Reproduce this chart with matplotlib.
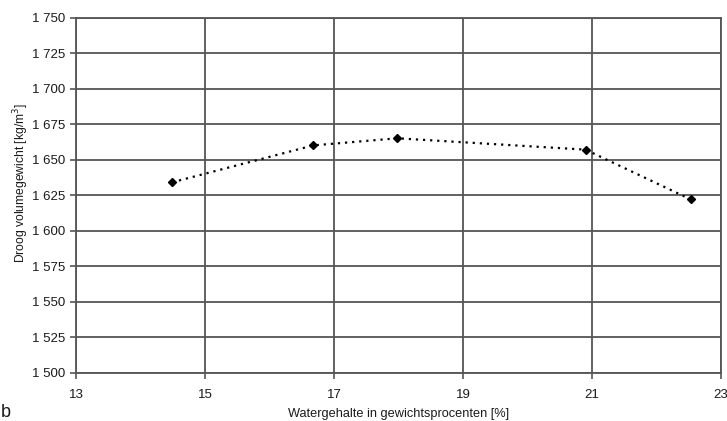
import numpy as np
import matplotlib.pyplot as plt
from matplotlib.ticker import FuncFormatter

plt.rcParams['font.family'] = ['Liberation Sans', 'DejaVu Sans']

# waterpercentage vs droog volumegewicht
water = [14.49, 16.68, 17.98, 20.90, 22.53]
dichtheid = [1634, 1660, 1665, 1657, 1622]

xticks = [13, 15, 17, 19, 21, 23]
yticks = list(range(1500, 1751, 25))

fig = plt.figure(figsize=(7.27, 4.21), dpi=100)
ax = fig.add_axes([0.1045, 0.1147, 0.8872, 0.8437])

ax.plot(water, dichtheid, linestyle=(0, (1, 2.2)), color='black', lw=1.6,
        marker='D', markersize=4, markerfacecolor='black', markeredgecolor='black')

ax.set_xlim(13, 23)
ax.set_ylim(1500, 1750)
ax.set_xticks(xticks)
ax.set_yticks(yticks)
ax.yaxis.set_major_formatter(FuncFormatter(lambda v, p: "%d %03d" % (int(v) // 1000, int(v) % 1000)))
ax.grid(True, color='#555555', lw=1.3)
for s in ax.spines.values():
    s.set_color('#555555')
    s.set_linewidth(1.3)
ax.tick_params(axis='both', colors='#555555', labelcolor='#1a1a1a', labelsize=9.5,
               length=4, width=1.2)
ax.tick_params(axis='x', pad=8)

ax.set_xlabel("Watergehalte in gewichtsprocenten [%]", fontsize=9.2, color='#1a1a1a', labelpad=5)
ax.set_ylabel("Droog volumegewicht [kg/m$^3$]", fontsize=8.7, color='#1a1a1a')
ax.yaxis.set_label_coords(-0.07, 0.535)

fig.text(0.001, 0.0, "b", fontsize=13, color='#1a1a1a', va='bottom')

fig.savefig("out.png", dpi=100)
